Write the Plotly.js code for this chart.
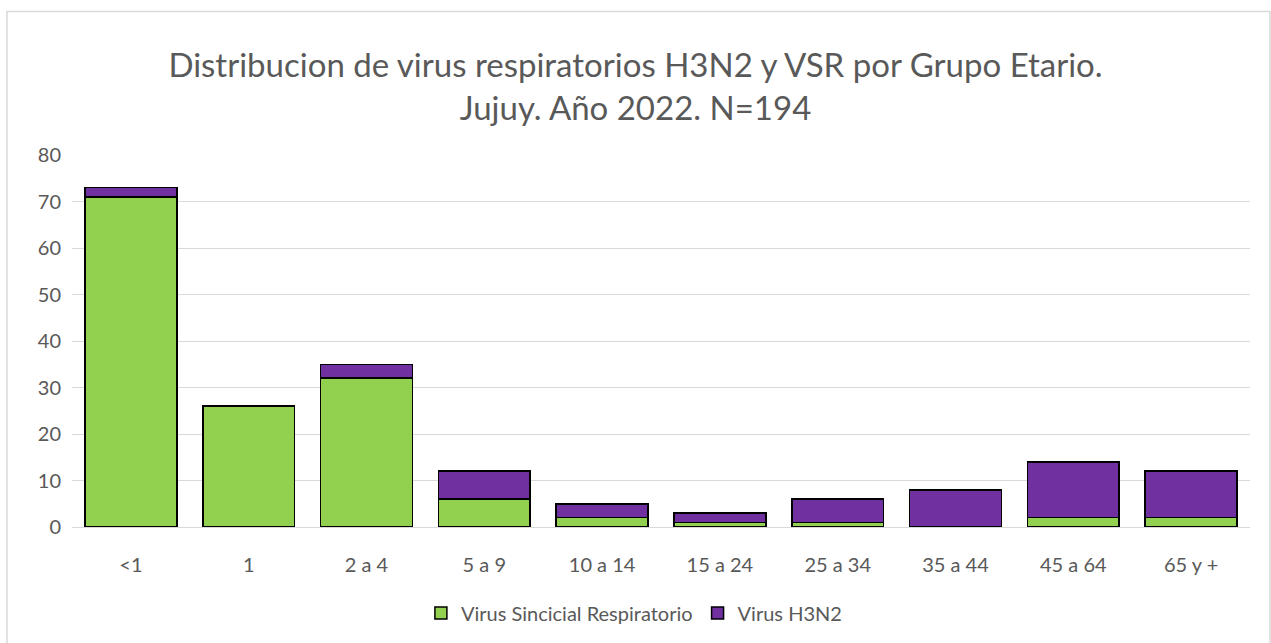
<!DOCTYPE html>
<html>
<head>
<meta charset="utf-8">
<script src="https://cdn.plot.ly/plotly-3.0.1.min.js"></script>
<style>
html,body{margin:0;padding:0;background:#fff;}
#chart{width:1271px;height:643px;}
</style>
</head>
<body>
<div id="chart"></div>
<script>
const categories = ["<1","1","2 a 4","5 a 9","10 a 14","15 a 24","25 a 34","35 a 44","45 a 64","65 y +"];
const vsr = [71,26,32,6,2,1,1,0,2,2];
const h3n2 = [2,0,3,6,3,2,5,8,12,10];
const yTicks = [0,10,20,30,40,50,60,70,80];

const font = "Lato, 'Open Sans', sans-serif";
const traces = [
  {type:"bar", name:"Virus Sincicial Respiratorio", x:categories, y:vsr,
   marker:{color:"#92D050", line:{color:"#000000", width:1.5}}},
  {type:"bar", name:"Virus H3N2", x:categories, y:h3n2,
   marker:{color:"#7030A0", line:{color:"#000000", width:1.5}}}
];
const layout = {
  width:1271, height:643,
  barmode:"stack", bargap:0.22,
  paper_bgcolor:"#fff", plot_bgcolor:"#fff",
  margin:{l:72, r:21, t:155, b:115},
  title:{text:"Distribucion de virus respiratorios H3N2 y VSR por Grupo Etario.<br>Jujuy. Año 2022. N=194",
         font:{family:font, size:33, color:"#595959"}, x:0.5, xanchor:"center", y:0.88, yanchor:"middle"},
  xaxis:{type:"category", tickfont:{family:font, size:20, color:"#595959"}, showgrid:false,
         showline:true, linecolor:"#d9d9d9", linewidth:1, ticks:"", ticklen:0, ticklabelstandoff:20},
  yaxis:{range:[0,80], tickvals:yTicks, tickfont:{family:font, size:20, color:"#595959"},
         gridcolor:"#d9d9d9", gridwidth:1, zeroline:false, showline:false, ticks:"", ticklabelstandoff:10},
  legend:{orientation:"h", x:0.477, xanchor:"center", y:-0.228, yanchor:"middle",
          font:{family:font, size:20, color:"#595959"}, traceorder:"normal"},
  shapes:[{type:"rect", xref:"paper", yref:"paper", x0:-0.0552, x1:1.017, y0:-0.32, y1:1.386,
           line:{color:"#d9d9d9", width:1.5}}],
  showlegend:true
};
Plotly.newPlot("chart", traces, layout, {displayModeBar:false, staticPlot:true});
</script>
</body>
</html>
